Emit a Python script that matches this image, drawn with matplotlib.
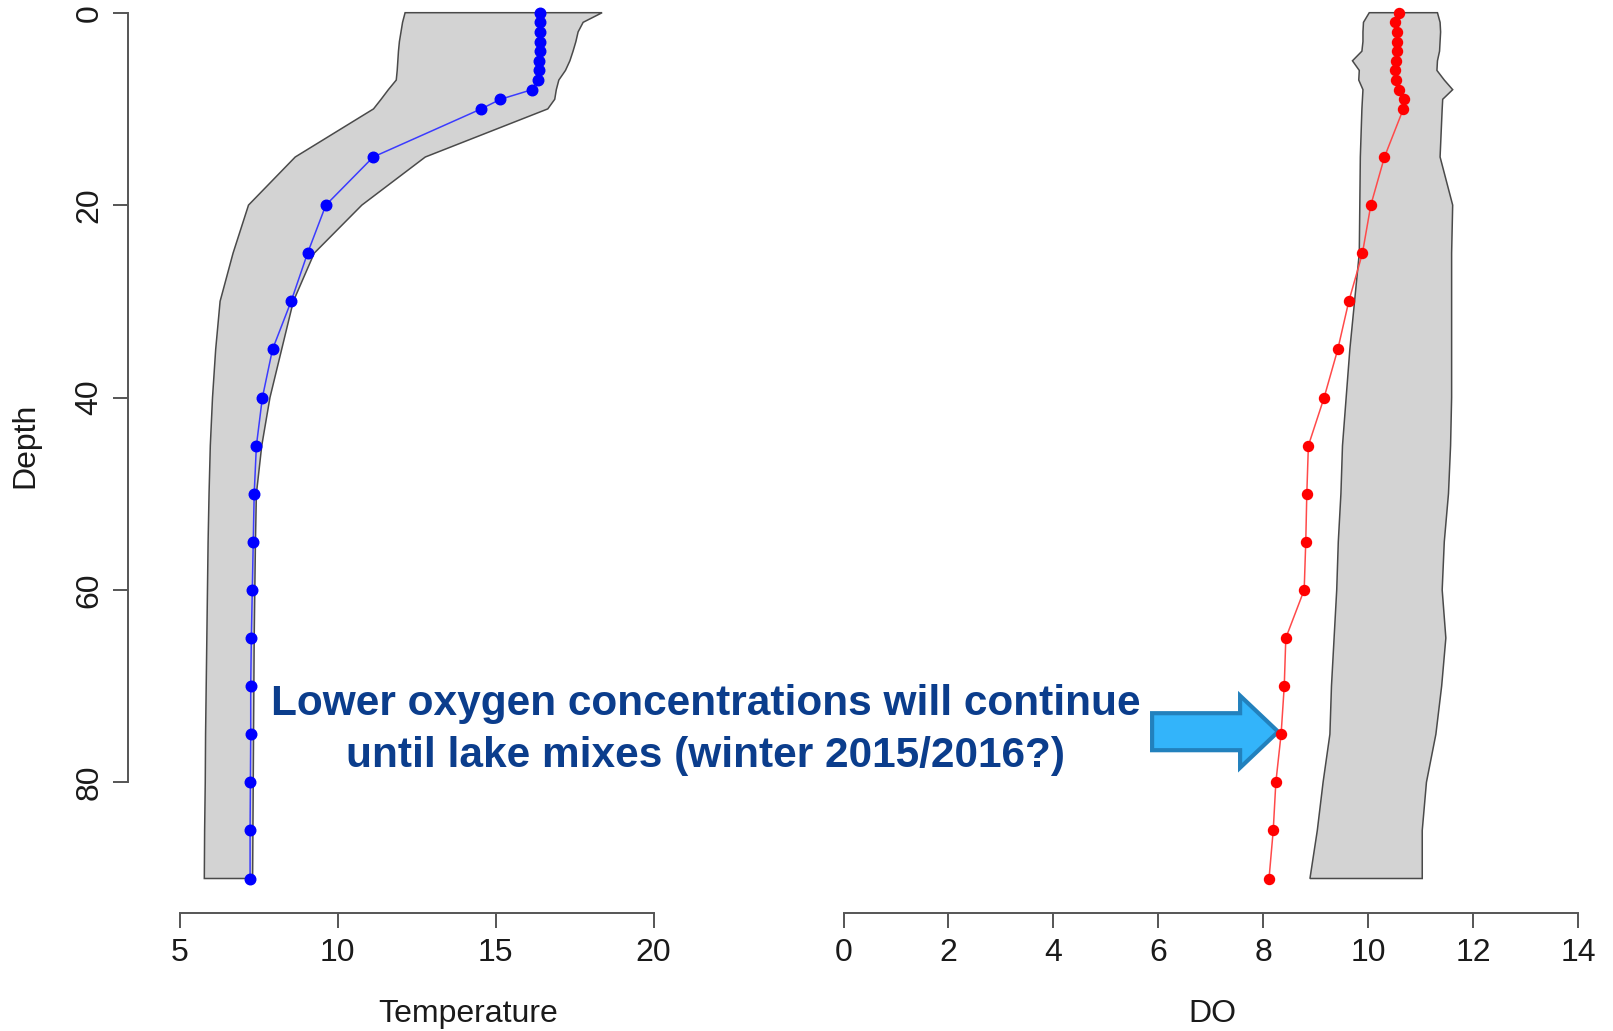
import matplotlib
matplotlib.use("Agg")
import matplotlib.pyplot as plt
import matplotlib.transforms as mtransforms
from matplotlib.patches import Polygon
import numpy as np

plt.rcParams['font.family'] = ['Liberation Sans', 'DejaVu Sans']

# Profile depths (m)
depth = [0, 1, 2, 3, 4, 5, 6, 7, 8, 9, 10, 15, 20, 25, 30, 35, 40, 45,
         50, 55, 60, 65, 70, 75, 80, 85, 90]

# Current temperature profile and historical range
temp = [16.40, 16.40, 16.40, 16.40, 16.39, 16.38, 16.36, 16.34, 16.15, 15.15,
        14.54, 11.12, 9.62, 9.04, 8.52, 7.93, 7.61, 7.42, 7.35, 7.32, 7.29,
        7.26, 7.24, 7.24, 7.23, 7.22, 7.22]
temp_min = [12.13, 12.05, 12.00, 11.95, 11.92, 11.90, 11.88, 11.85, 11.60, 11.37,
            11.13, 8.65, 7.17, 6.68, 6.27, 6.13, 6.03, 5.96, 5.92, 5.89, 5.87,
            5.85, 5.83, 5.81, 5.80, 5.78, 5.77]
temp_max = [18.37, 17.77, 17.61, 17.54, 17.45, 17.35, 17.21, 17.00, 16.92, 16.87,
            16.65, 12.77, 10.76, 9.25, 8.59, 8.22, 7.85, 7.59, 7.42, 7.39, 7.37,
            7.35, 7.34, 7.33, 7.32, 7.31, 7.30]

# Current dissolved oxygen profile and historical range
do = [10.59, 10.51, 10.55, 10.55, 10.54, 10.53, 10.52, 10.53, 10.58, 10.69,
      10.67, 10.31, 10.05, 9.89, 9.63, 9.42, 9.16, 8.86, 8.83, 8.81, 8.78,
      8.43, 8.40, 8.34, 8.24, 8.19, 8.11]
do_min = [10.02, 9.91, 9.90, 9.90, 9.88, 9.70, 9.83, 9.82, 9.90, 9.89, 9.88,
          9.85, 9.84, 9.83, 9.74, 9.65, 9.58, 9.51, 9.48, 9.43, 9.40, 9.35,
          9.30, 9.27, 9.14, 9.03, 8.89]
do_max = [11.32, 11.37, 11.38, 11.37, 11.36, 11.32, 11.31, 11.45, 11.61, 11.42,
          11.41, 11.37, 11.61, 11.59, 11.59, 11.59, 11.59, 11.57, 11.53, 11.45,
          11.41, 11.48, 11.40, 11.29, 11.11, 11.03, 11.03]

temp_ticks = [5, 10, 15, 20]
do_ticks = [0, 2, 4, 6, 8, 10, 12, 14]
depth_ticks = [0, 20, 40, 60, 80]

note_lines = ["Lower oxygen concentrations will continue",
              "until lake mixes (winter 2015/2016?)"]
arrow_depth = 75

W, H = 1613, 1031
fig = plt.figure(figsize=(W / 100, H / 100), dpi=100)
fig.patch.set_facecolor('white')


def add_px_axes(x0, x1, y0, y1):
    """Axes placed by pixel box (y measured from the top)."""
    return fig.add_axes([x0 / W, 1 - y1 / H, (x1 - x0) / W, (y1 - y0) / H])


# depth scale: 12.7 px at 0 m, 9.62 px per metre, axis line at 912.7 px
y_top, y_bot = 0.0, 912.7
d0_px, d_scale = 12.7, 9.62
ylim = ((y_bot - d0_px) / d_scale, (y_top - d0_px) / d_scale)

axis_col = '#555555'
label_col = '#1a1a1a'
fs = 23


def style_axis(ax):
    ax.patch.set_alpha(0)
    for s in ['top', 'right']:
        ax.spines[s].set_visible(False)
    for s in ['left', 'bottom']:
        ax.spines[s].set_color(axis_col)
        ax.spines[s].set_linewidth(1.4)
    ax.tick_params(axis='both', direction='out', length=10.5, width=1.4,
                   color=axis_col, labelsize=fs, labelcolor=label_col)
    ax.tick_params(axis='x', pad=8)


# ---- Temperature panel ----
t0_px, t_scale = 180.0, 31.57
ax1 = add_px_axes(128, 700, y_top, y_bot)
ax1.set_xlim(5 + (128 - t0_px) / t_scale, 5 + (700 - t0_px) / t_scale)
ax1.set_ylim(*ylim)
style_axis(ax1)

band_t = np.column_stack([temp_min + temp_max[::-1], depth + depth[::-1]])
ax1.add_patch(Polygon(band_t, closed=True, facecolor='#d3d3d3',
                      edgecolor='#4a4a4a', linewidth=1.1, zorder=1))
ax1.plot(temp, depth, color='#3b3bff', linewidth=1.1, zorder=2)
ax1.plot(temp, depth, linestyle='none', marker='o', markersize=7.6,
         color='#0000ff', zorder=3, clip_on=False)

ax1.spines['left'].set_bounds(0, 80)
ax1.spines['bottom'].set_bounds(5, 20)
ax1.set_xticks(temp_ticks)
ax1.set_yticks(depth_ticks)
ax1.set_yticklabels([str(v) for v in depth_ticks], rotation=90, va='center')
ax1.tick_params(axis='y', pad=6.5)

ax1.set_xlabel('Temperature', fontsize=fs, color=label_col)
ax1.xaxis.label.set_va('baseline')
ax1.xaxis.set_label_coords((468 - 128) / 572, (y_bot - 1021.7) / y_bot)
ax1.set_ylabel('Depth', fontsize=fs, color=label_col)
ax1.yaxis.label.set_va('center')
ax1.yaxis.set_label_coords((25 - 128) / 572, 1 - 445 / y_bot)

# ---- Dissolved oxygen panel ----
o0_px, o_scale = 843.5, 52.47
ax2 = add_px_axes(800, 1613, y_top, y_bot)
ax2.set_xlim((800 - o0_px) / o_scale, (1613 - o0_px) / o_scale)
ax2.set_ylim(*ylim)
style_axis(ax2)
ax2.spines['left'].set_visible(False)
ax2.set_yticks([])

band_o = np.column_stack([do_min + do_max[::-1], depth + depth[::-1]])
ax2.add_patch(Polygon(band_o, closed=True, facecolor='#d3d3d3',
                      edgecolor='#4a4a4a', linewidth=1.1, zorder=1))
ax2.plot(do, depth, color='#ff4a4a', linewidth=1.1, zorder=4)
ax2.plot(do, depth, linestyle='none', marker='o', markersize=7.2,
         color='#ff0000', zorder=5, clip_on=False)

ax2.spines['bottom'].set_bounds(0, 14)
ax2.set_xticks(do_ticks)
ax2.set_xlabel('DO', fontsize=fs, color=label_col)
ax2.xaxis.label.set_va('baseline')
ax2.xaxis.set_label_coords((1212 - 800) / 813, (y_bot - 1021.7) / y_bot)

# ---- Block arrow pointing at the DO reading at 75 m ----
k = depth.index(arrow_depth)
anchor = mtransforms.ScaledTranslation(do[k], depth[k], ax2.transData)
arrow_trans = mtransforms.Affine2D() + anchor
arrow_px = [(-3, 2.5), (-41, 38.5), (-41, 21.0), (-129, 21.0),
            (-129, -16.0), (-41, -16.0), (-41, -33.5)]
ax2.add_patch(Polygon(arrow_px, closed=True, transform=arrow_trans,
                      facecolor='#33b4fa', edgecolor='#2281bd',
                      linewidth=3.0, joinstyle='miter', zorder=3,
                      clip_on=False))

# ---- Note ----
note_col = '#0b3d8c'
for line, base in zip(note_lines, [715.0, 766.7]):
    fig.text(706 / W, 1 - base / H, line, ha='center', va='baseline',
             fontsize=30.5, fontweight='bold', color=note_col)

fig.savefig('out.png', dpi=100)
